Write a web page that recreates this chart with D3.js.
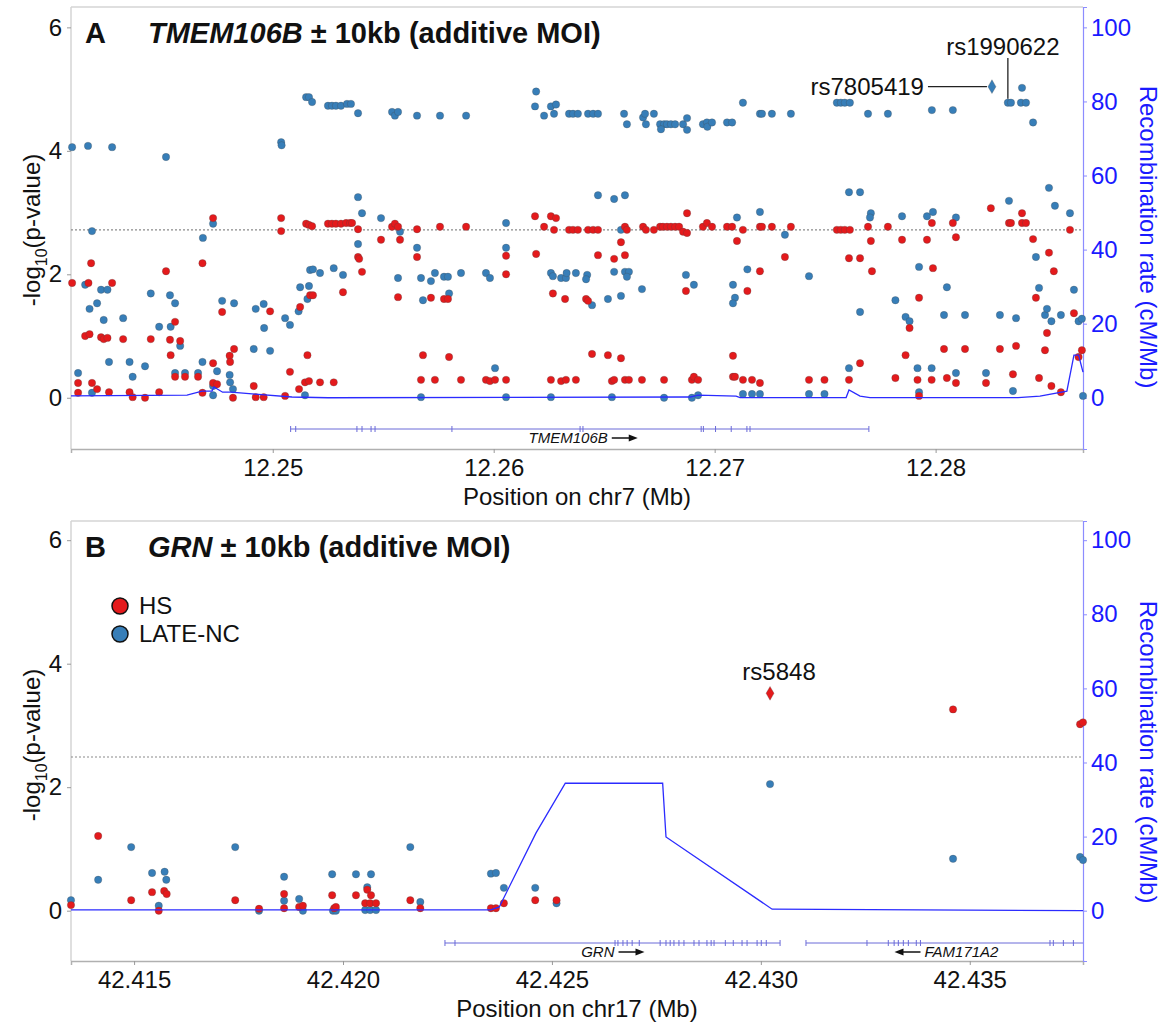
<!DOCTYPE html>
<html><head><meta charset="utf-8">
<script src="https://cdn.jsdelivr.net/npm/d3@7"></script>
<style>body{margin:0;background:#fff}svg{display:block;font-family:"Liberation Sans",Arial,sans-serif}</style>
</head><body><svg id="chart" width="1166" height="1028"></svg>
<script>
// ---------------- DATA ----------------
// Panel A: TMEM106B region (chr7, Mb, -log10 p)
const lateA = [
[12.24092,4.06],[12.24164,4.08],[12.24273,4.06],[12.24517,3.90],[12.25038,4.14],[12.25040,4.09],
[12.25151,4.87],[12.25164,4.87],[12.25178,4.79],[12.25250,4.73],[12.25268,4.73],[12.25286,4.73],[12.25309,4.73],
[12.25336,4.76],[12.25354,4.76],[12.25386,4.61],[12.25540,4.63],[12.25553,4.57],[12.25567,4.63],[12.25653,4.57],
[12.25757,4.57],[12.25875,4.57],[12.26192,4.96],[12.26187,4.72],[12.26228,4.57],[12.26259,4.72],[12.26282,4.75],
[12.26273,4.60],[12.26341,4.60],[12.26359,4.60],[12.26381,4.60],[12.26427,4.60],[12.26450,4.60],[12.26472,4.60],
[12.26590,4.60],[12.26603,4.43],[12.26676,4.54],[12.26685,4.60],[12.26689,4.43],[12.26725,4.60],[12.26753,4.43],
[12.26771,4.43],[12.26784,4.43],[12.26802,4.43],[12.26821,4.43],[12.26757,4.35],[12.26857,4.43],[12.26875,4.53],
[12.26875,4.34],[12.26947,4.43],[12.26965,4.46],[12.26967,4.39],[12.26988,4.46],[12.27056,4.46],[12.27079,4.46],
[12.27128,4.78],[12.27205,4.60],[12.27214,4.60],[12.27259,4.60],[12.27345,4.60],[12.27553,4.78],[12.27571,4.78],
[12.27589,4.78],[12.27612,4.78],[12.27694,4.60],[12.27784,4.60],[12.27983,4.66],[12.28078,4.66],[12.28327,4.78],
[12.28341,4.78],[12.28391,5.02],[12.28386,4.78],[12.28409,4.78],[12.28441,4.46],
[12.24182,2.70],[12.24684,2.59],[12.24730,2.82],[12.25386,3.25],[12.25404,2.99],[12.25386,2.49],[12.25490,2.91],
[12.25576,2.69],[12.25653,2.43],[12.26056,2.83],[12.26056,2.43],[12.26472,3.28],[12.26545,3.22],[12.26594,3.28],
[12.26576,2.72],[12.27101,2.92],[12.27205,3.01],[12.27318,2.64],[12.27608,3.33],[12.27658,3.33],[12.27707,2.99],
[12.27703,2.92],[12.27848,2.94],[12.27961,2.94],[12.27988,3.01],[12.28092,2.92],[12.28332,3.19],[12.28454,2.28],
[12.28513,3.40],[12.28540,3.11],[12.28608,2.99],
[12.24151,1.83],[12.24171,1.44],[12.24205,1.53],[12.24223,1.75],[12.24252,1.75],[12.24235,1.26],[12.24259,0.58],
[12.24119,0.40],[12.24182,0.08],[12.24323,1.29],[12.24352,0.58],[12.24366,0.34],[12.24422,0.51],[12.24448,1.69],
[12.24486,1.15],[12.24535,1.66],[12.24558,1.53],[12.24538,1.15],[12.24581,0.84],[12.24558,0.40],[12.24603,0.40],
[12.24662,0.40],[12.24682,0.58],[12.24730,0.19],[12.24730,0.04],[12.24748,0.43],[12.24771,1.57],[12.24805,0.37],
[12.24807,0.25],[12.24825,1.53],[12.24820,0.14],[12.24914,0.79],[12.24923,1.44],[12.24959,1.52],[12.24961,1.13],
[12.24988,0.76],[12.25056,1.29],[12.25078,1.18],[12.25117,1.40],[12.25146,0.04],[12.25124,1.79],[12.25164,1.81],
[12.25157,1.60],[12.25169,2.07],[12.25182,2.08],[12.25214,2.02],[12.25276,2.10],[12.25318,1.99],[12.25567,1.94],
[12.25671,1.94],[12.25680,1.58],[12.25671,0.01],[12.25716,1.89],[12.25734,2.02],[12.25775,1.96],[12.25793,1.96],
[12.25798,1.69],[12.25852,2.02],[12.25965,2.02],[12.25983,1.94],[12.26006,0.48],[12.26056,0.01],[12.26259,2.02],
[12.26268,1.97],[12.26259,0.01],[12.26305,1.94],[12.26327,1.94],[12.26330,2.02],[12.26372,2.02],[12.26423,1.99],
[12.26418,1.92],[12.26445,1.50],[12.26517,1.60],[12.26535,0.01],[12.26545,2.04],[12.26594,2.04],[12.26612,2.04],
[12.26603,1.96],[12.26576,1.65],[12.26671,1.76],[12.26771,0.00],[12.26870,1.99],[12.26906,1.83],[12.26897,0.00],
[12.26925,0.04],[12.27083,1.83],[12.27092,1.62],[12.27083,1.53],[12.27128,0.06],[12.27148,2.08],[12.27169,0.06],
[12.27205,0.06],[12.27427,1.97],[12.27427,0.06],[12.27497,0.06],[12.27608,0.48],[12.27658,1.39],[12.27818,1.58],
[12.27864,1.31],[12.27882,1.24],[12.27925,2.12],[12.27918,0.48],[12.27925,0.09],[12.27982,0.48],[12.28038,1.34],
[12.28051,1.79],[12.28092,0.40],[12.28133,1.34],[12.28228,0.40],[12.28291,1.34],[12.28350,0.11],[12.28364,1.29],
[12.28468,1.78],[12.28495,1.34],[12.28504,1.44],[12.28524,1.24],[12.28567,1.34],[12.28626,1.75],[12.28647,1.24],
[12.28662,1.28],[12.28667,0.03]
];
const hsA = [
[12.24730,2.91],[12.25038,2.91],[12.25038,2.70],[12.25151,2.82],[12.25164,2.80],[12.25178,2.78],[12.25250,2.82],
[12.25268,2.82],[12.25286,2.82],[12.25309,2.82],[12.25332,2.83],[12.25350,2.83],[12.25359,2.83],[12.25386,2.73],
[12.25386,2.28],[12.25391,2.25],[12.25404,2.04],[12.25490,2.56],[12.25540,2.77],[12.25553,2.82],[12.25567,2.77],
[12.25576,2.56],[12.25653,2.73],[12.25653,2.28],[12.25757,2.77],[12.25875,2.77],[12.26056,2.30],[12.26187,2.94],
[12.26192,2.33],[12.26228,2.77],[12.26259,2.94],[12.26282,2.91],[12.26273,2.72],[12.26341,2.72],[12.26359,2.72],
[12.26381,2.72],[12.26427,2.72],[12.26450,2.72],[12.26472,2.72],[12.26472,2.31],[12.26545,2.25],[12.26594,2.77],
[12.26603,2.72],[12.26576,2.52],[12.26594,2.31],[12.26676,2.77],[12.26689,2.72],[12.26725,2.72],[12.26753,2.77],
[12.26766,2.77],[12.26784,2.77],[12.26802,2.77],[12.26821,2.77],[12.26839,2.77],[12.26857,2.69],[12.26875,2.99],
[12.26875,2.67],[12.26947,2.77],[12.26965,2.83],[12.26988,2.77],[12.27056,2.77],[12.27079,2.77],[12.27101,2.54],
[12.27128,2.72],[12.27205,2.77],[12.27214,2.77],[12.27259,2.77],[12.27318,2.28],[12.27345,2.77],[12.27553,2.72],
[12.27571,2.72],[12.27589,2.72],[12.27612,2.72],[12.27608,2.26],[12.27658,2.26],[12.27694,2.77],[12.27707,2.54],
[12.27712,2.05],[12.27784,2.77],[12.27848,2.56],[12.27983,2.83],[12.27961,2.56],[12.27988,2.10],[12.28078,2.83],
[12.28092,2.60],[12.28250,3.07],[12.28332,2.83],[12.28341,2.83],[12.28391,2.99],[12.28391,2.83],[12.28409,2.83],
[12.28441,2.57],[12.28513,2.35],[12.28535,2.05],[12.28608,2.72],
[12.24092,1.86],[12.24166,1.86],[12.24178,2.18],[12.24273,1.86],[12.24151,1.00],[12.24171,1.03],[12.24223,0.98],
[12.24235,0.95],[12.24252,0.97],[12.24119,0.24],[12.24119,0.08],[12.24182,0.24],[12.24205,0.14],[12.24259,0.09],
[12.24323,0.95],[12.24352,0.09],[12.24366,0.01],[12.24422,0.00],[12.24448,0.95],[12.24486,0.09],[12.24517,2.05],
[12.24535,0.94],[12.24581,0.92],[12.24558,1.23],[12.24538,0.69],[12.24558,0.34],[12.24603,0.34],[12.24662,0.34],
[12.24682,2.18],[12.24682,0.08],[12.24730,0.56],[12.24730,0.24],[12.24748,0.22],[12.24771,1.39],[12.24805,0.68],
[12.24807,0.58],[12.24825,0.79],[12.24820,0.00],[12.24914,0.19],[12.24923,0.01],[12.24959,0.01],[12.24988,1.40],
[12.25056,0.03],[12.25078,0.42],[12.25124,1.47],[12.25119,0.14],[12.25169,1.66],[12.25182,1.66],[12.25157,0.69],
[12.25146,0.25],[12.25164,0.27],[12.25214,0.25],[12.25276,0.25],[12.25318,1.71],[12.25567,1.63],[12.25680,0.69],
[12.25671,0.29],[12.25716,1.62],[12.25734,0.29],[12.25775,1.60],[12.25793,1.60],[12.25798,0.66],[12.25852,0.29],
[12.25965,0.29],[12.25983,0.27],[12.26006,0.29],[12.26056,2.00],[12.26056,0.29],[12.26268,1.69],[12.26259,0.29],
[12.26305,0.27],[12.26327,0.29],[12.26323,1.60],[12.26372,0.29],[12.26418,1.60],[12.26427,1.57],[12.26445,0.71],
[12.26517,0.69],[12.26535,0.27],[12.26545,0.29],[12.26576,0.64],[12.26594,0.29],[12.26612,0.29],[12.26671,0.29],
[12.26771,0.29],[12.26870,1.73],[12.26897,0.29],[12.26906,0.34],[12.26925,0.29],[12.27083,0.68],[12.27083,0.34],
[12.27092,0.34],[12.27128,0.29],[12.27148,1.73],[12.27169,0.29],[12.27205,0.24],[12.27205,2.05],[12.27427,0.29],
[12.27497,0.29],[12.27608,0.29],[12.27658,0.56],[12.27818,0.32],[12.27882,1.13],[12.27864,0.69],[12.27925,1.62],
[12.27918,0.29],[12.27925,0.03],[12.27982,0.29],[12.28038,0.79],[12.28051,0.32],[12.28092,0.24],[12.28133,0.79],
[12.28228,0.24],[12.28291,0.79],[12.28350,0.38],[12.28364,0.84],[12.28454,1.62],[12.28468,0.32],[12.28495,0.77],
[12.28504,1.05],[12.28524,0.19],[12.28567,0.09],[12.28626,1.37],[12.28647,0.66],[12.28662,0.77]
];
const recombA = [
[12.24087,0.5],[12.24612,0.7],[12.24680,1.8],[12.24725,1.8],[12.24734,2.9],[12.24773,1.5],[12.24811,1.5],
[12.24920,1.0],[12.25087,0.2],[12.25250,0.0],[12.26889,0.2],[12.26925,0.7],[12.27097,0.45],[12.27115,0.05],
[12.27595,0.05],[12.27608,2.1],[12.27658,0.45],[12.27703,0.03],[12.28373,0.05],[12.28472,0.45],[12.28594,1.8],
[12.28626,11.5],[12.28647,11.5],[12.28667,6.9]
];
const geneA = [["TMEM106B", 12.25081, 12.27698, 1]];
const exonsA = [12.25081,12.25104,12.25381,12.25404,12.25445,12.25463,12.25811,12.26391,12.26404,12.26939,12.26949,12.27004,12.27075,12.27146,12.27160,12.27698];
const leadA = [["rs7805419", 12.28255, 5.04, "LATE-NC"]];
const labelA = [["rs1990622", 12.28327, 4.78]];

// Panel B: GRN region (chr17)
const lateB = [
[42.41349,0.17],[42.41414,0.50],[42.41493,1.03],[42.41543,0.61],[42.41559,0.08],[42.41573,0.63],[42.41577,0.50],
[42.41742,1.03],[42.41799,0.00],[42.41859,0.55],[42.41859,0.16],[42.41895,0.19],[42.41904,0.00],[42.41974,0.59],
[42.41976,0.00],[42.41983,0.00],[42.42031,0.59],[42.42058,0.38],[42.42067,0.59],[42.42053,0.01],[42.42065,0.01],
[42.42079,0.01],[42.42161,1.03],[42.42185,0.14],[42.42354,0.60],[42.42366,0.61],[42.42385,0.37],[42.42460,0.37],
[42.42511,0.12],[42.43022,2.05],[42.43460,0.84],[42.43764,0.87],[42.43771,0.82]
];
const hsB = [
[42.41349,0.09],[42.41414,1.21],[42.41493,0.17],[42.41543,0.30],[42.41559,0.00],[42.41572,0.32],[42.41578,0.27],
[42.41742,0.17],[42.41799,0.03],[42.41859,0.27],[42.41859,0.04],[42.41895,0.06],[42.41904,0.08],[42.41974,0.25],
[42.41979,0.04],[42.41983,0.06],[42.42031,0.25],[42.42058,0.34],[42.42067,0.25],[42.42053,0.12],[42.42065,0.12],
[42.42079,0.12],[42.42161,0.17],[42.42185,0.04],[42.42354,0.04],[42.42366,0.04],[42.42385,0.12],[42.42460,0.17],
[42.42511,0.17],[42.43460,3.26],[42.43764,3.02],[42.43771,3.05]
];
const recombB = [
[42.41349,0.2],[42.42354,0.2],[42.42374,1.0],[42.42462,21.0],[42.42532,34.4],[42.42765,34.4],[42.42773,19.9],
[42.43027,0.4],[42.43771,0.0]
];
const geneB = [["GRN", 42.42244, 42.43046, 1], ["FAM171A2", 42.43108, 42.43780, -1]];
const exonsB = [42.42244,42.42268,42.42651,42.42658,42.42670,42.42680,42.42692,42.42709,42.42759,42.42773,42.42783,
42.42792,42.42804,42.42816,42.42840,42.42852,42.42871,42.42881,42.42888,42.42915,42.42934,42.42955,42.42967,
42.42991,42.43001,42.43013,42.43046,
42.43108,42.43254,42.43305,42.43319,42.43329,42.43341,42.43353,42.43372,42.43382,42.43692,42.43700,42.43724,42.43748];
const leadB = [["rs5848", 42.43022, 3.52, "HS"]];

const xTicksA = [12.25, 12.26, 12.27, 12.28];
const xTickLabelsA = ["12.25", "12.26", "12.27", "12.28"];
const xTicksB = [42.415, 42.420, 42.425, 42.430, 42.435];
const xTickLabelsB = ["42.415", "42.420", "42.425", "42.430", "42.435"];
const yTicks = [0, 2, 4, 6];
const recTicks = [0, 20, 40, 60, 80, 100];
const legendKeys = ["HS", "LATE-NC"];

// ---------------- DRAWING ----------------
const svg = d3.select("#chart");
const COL = {"HS": "#E41A1C", "LATE-NC": "#377EB8"};
const REC = "#2b2bff";
const GENE = "#6a6ad8";

function drawPanel(cfg) {
  const g = svg.append("g");
  const x = d3.scaleLinear().domain(cfg.xDomain).range([71, 1083]);
  const y = d3.scaleLinear().domain(cfg.yDomain).range([cfg.bottom, cfg.top]);
  const r = d3.scaleLinear().domain(cfg.yDomain.map(v => v * 100 / 6)).range([cfg.bottom, cfg.top]);

  // frame
  g.append("line").attr("x1", 71).attr("x2", 1083).attr("y1", cfg.top).attr("y2", cfg.top).attr("stroke", "#d4d4d4").attr("stroke-width", 1.5);
  g.append("line").attr("x1", 71).attr("x2", 71).attr("y1", cfg.top).attr("y2", cfg.bottom).attr("stroke", "#d4d4d4").attr("stroke-width", 1.5);

  // x axis
  const xa = g.append("g").attr("transform", `translate(0,${cfg.bottom})`)
    .call(d3.axisBottom(x).tickValues(cfg.xTicks).tickFormat((d, i) => cfg.xLabels[i]).tickSize(4).tickPadding(6));
  xa.select(".domain").attr("stroke", "#b0b0b0").attr("stroke-width", 1.5);
  xa.selectAll(".tick line").attr("stroke", "#999");
  xa.selectAll("text").attr("font-size", 24).attr("fill", "#111").attr("font-family", "Liberation Sans, Arial, sans-serif");

  // left y axis
  const ya = g.append("g").attr("transform", "translate(71,0)")
    .call(d3.axisLeft(y).tickValues(yTicks).tickSize(4).tickPadding(5));
  ya.select(".domain").remove();
  ya.selectAll(".tick line").attr("stroke", "#999");
  ya.selectAll("text").attr("font-size", 24).attr("fill", "#111").attr("font-family", "Liberation Sans, Arial, sans-serif");

  // right y axis
  const ra = g.append("g").attr("transform", "translate(1083,0)")
    .call(d3.axisRight(r).tickValues(recTicks).tickSize(4).tickPadding(4));
  ra.select(".domain").attr("stroke", "#8c8cff").attr("stroke-width", 1.2);
  ra.selectAll(".tick line").attr("stroke", "#8c8cff");
  ra.selectAll("text").attr("font-size", 24).attr("fill", "#1a1aff").attr("font-family", "Liberation Sans, Arial, sans-serif");

  // significance line
  g.append("line").attr("x1", 71).attr("x2", 1083).attr("y1", y(cfg.sig)).attr("y2", y(cfg.sig))
    .attr("stroke", "#8a8a8a").attr("stroke-width", 1.1).attr("stroke-dasharray", "2,2");

  // gene track
  const gy = cfg.geneY;
  cfg.genes.forEach(([name, s, e, strand]) => {
    g.append("line").attr("x1", x(s)).attr("x2", Math.min(x(e), 1083)).attr("y1", gy).attr("y2", gy).attr("stroke", GENE).attr("stroke-width", 1);
    const mid = (x(s) + Math.min(x(e), 1083)) / 2 + (cfg.labelShift[name] || 0);
    const t = g.append("text").attr("y", gy + 14).attr("font-size", 15).attr("font-style", "italic").attr("fill", "#111");
    if (strand > 0) {
      t.attr("x", mid + 8).attr("text-anchor", "end").text(name);
      g.append("line").attr("x1", mid + 12).attr("x2", mid + 32).attr("y1", gy + 9).attr("y2", gy + 9).attr("stroke", "#111").attr("stroke-width", 1.5);
      g.append("path").attr("d", `M${mid + 38},${gy + 9} L${mid + 29},${gy + 5.5} L${mid + 29},${gy + 12.5} Z`).attr("fill", "#111");
    } else {
      t.attr("x", mid - 8).attr("text-anchor", "start").text(name);
      g.append("line").attr("x1", mid - 32).attr("x2", mid - 12).attr("y1", gy + 9).attr("y2", gy + 9).attr("stroke", "#111").attr("stroke-width", 1.5);
      g.append("path").attr("d", `M${mid - 38},${gy + 9} L${mid - 29},${gy + 5.5} L${mid - 29},${gy + 12.5} Z`).attr("fill", "#111");
    }
  });
  g.selectAll(".exon").data(cfg.exons.filter(d => x(d) <= 1083)).enter().append("line")
    .attr("x1", d => x(d)).attr("x2", d => x(d)).attr("y1", gy - 3).attr("y2", gy + 3).attr("stroke", GENE).attr("stroke-width", 1);

  // points
  const drawPts = (data, key) => g.append("g").selectAll("circle").data(data).enter().append("circle")
    .attr("cx", d => x(d[0])).attr("cy", d => y(d[1])).attr("r", 3.7)
    .attr("fill", COL[key]).attr("stroke", "rgba(70,70,70,0.55)").attr("stroke-width", 0.5);
  drawPts(cfg.late, "LATE-NC");
  drawPts(cfg.hs, "HS");

  // recombination line
  g.append("path").datum(cfg.rec).attr("fill", "none").attr("stroke", REC).attr("stroke-width", 1.3)
    .attr("d", d3.line().x(d => x(d[0])).y(d => r(d[1])));

  // lead SNP diamonds
  cfg.lead.forEach(([name, pos, v, key]) => {
    g.append("path").attr("d", d3.symbol().type(d3.symbolDiamond).size(55)())
      .attr("transform", `translate(${x(pos)},${y(v)})`).attr("fill", COL[key]).attr("stroke", "rgba(70,70,70,0.55)").attr("stroke-width", 0.5);
  });

  // titles
  const tt = g.append("text").attr("y", cfg.top + 36).attr("font-size", 29).attr("font-weight", "bold").attr("fill", "#111");
  tt.append("tspan").attr("x", 85).text(cfg.letter);
  tt.append("tspan").attr("x", 148).attr("font-style", "italic").text(cfg.gene);
  tt.append("tspan").text(" \u00b1 10kb (additive MOI)");

  g.append("text").attr("x", 577).attr("y", cfg.bottom + 56).attr("text-anchor", "middle").attr("font-size", 24).attr("fill", "#111").text(cfg.xTitle);

  const yl = g.append("text").attr("transform", `translate(40,${cfg.yTitleY}) rotate(-90)`).attr("text-anchor", "middle").attr("font-size", 24).attr("fill", "#111");
  yl.append("tspan").text("-log");
  yl.append("tspan").attr("font-size", 16).attr("dy", 7).text("10");
  yl.append("tspan").attr("dy", -7).text("(p-value)");

  g.append("text").attr("transform", `translate(1140,${cfg.rTitleY}) rotate(90)`).attr("text-anchor", "middle").attr("font-size", 24).attr("fill", "#1a1aff").text("Recombination rate (cM/Mb)");

  return {g, x, y};
}

// Panel A
const A = drawPanel({
  top: 7, bottom: 449, xDomain: [12.24087, 12.28667], yDomain: [-0.83, 6.33],
  xTicks: xTicksA, xLabels: xTickLabelsA, sig: 2.72, geneY: 429, genes: geneA, exons: exonsA,
  labelShift: {"TMEM106B": 20}, late: lateA, hs: hsA, rec: recombA, lead: leadA,
  letter: "A", gene: "TMEM106B", xTitle: "Position on chr7 (Mb)", yTitleY: 230, rTitleY: 237
});
// annotations panel A
leadA.forEach(([name, pos, v]) => {
  const px = A.x(pos), py = A.y(v);
  A.g.append("line").attr("x1", px - 64).attr("x2", px - 5).attr("y1", py).attr("y2", py).attr("stroke", "#222").attr("stroke-width", 1.3);
  A.g.append("text").attr("x", px - 68).attr("y", py + 8).attr("text-anchor", "end").attr("font-size", 24).attr("fill", "#111").text(name);
});
labelA.forEach(([name, pos, v]) => {
  const px = A.x(pos), py = A.y(v);
  A.g.append("line").attr("x1", px).attr("x2", px).attr("y1", py - 4).attr("y2", 58).attr("stroke", "#222").attr("stroke-width", 1.3);
  A.g.append("text").attr("x", px - 5).attr("y", 55).attr("text-anchor", "middle").attr("font-size", 24).attr("fill", "#111").text(name);
});

// Panel B
const B = drawPanel({
  top: 521, bottom: 961, xDomain: [42.41349, 42.43771], yDomain: [-0.815, 6.311],
  xTicks: xTicksB, xLabels: xTickLabelsB, sig: 2.49, geneY: 943, genes: geneB, exons: exonsB,
  labelShift: {"GRN": -6, "FAM171A2": -12}, late: lateB, hs: hsB, rec: recombB, lead: leadB,
  letter: "B", gene: "GRN", xTitle: "Position on chr17 (Mb)", yTitleY: 745, rTitleY: 752
});
leadB.forEach(([name, pos, v]) => {
  B.g.append("text").attr("x", B.x(pos) + 9).attr("y", B.y(v) - 13).attr("text-anchor", "middle").attr("font-size", 24).attr("fill", "#111").text(name);
});
// legend
const lg = B.g.append("g");
legendKeys.forEach((k, i) => {
  lg.append("circle").attr("cx", 120).attr("cy", 606 + i * 28).attr("r", 8).attr("fill", COL[k]).attr("stroke", "#111").attr("stroke-width", 1.5);
  lg.append("text").attr("x", 139).attr("y", 614 + i * 28).attr("font-size", 24).attr("fill", "#111").text(k);
});
</script></body></html>
